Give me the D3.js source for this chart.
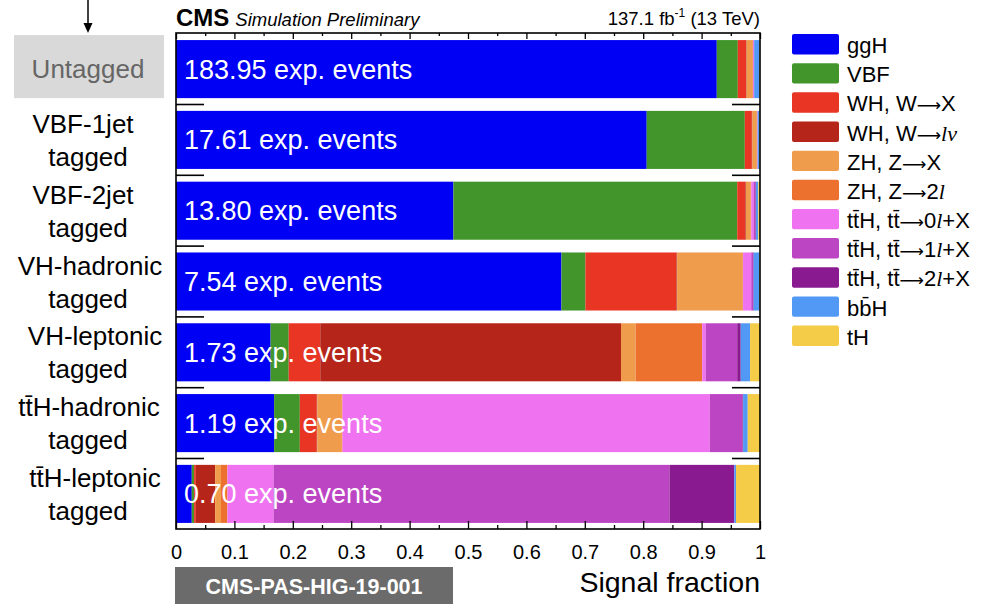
<!DOCTYPE html>
<html>
<head>
<meta charset="utf-8">
<script src="https://cdn.jsdelivr.net/npm/d3@7/dist/d3.min.js"></script>
<style>
  html, body { margin: 0; padding: 0; background: #fff; }
  svg { display: block; font-family: "Liberation Sans", Arial, Helvetica, sans-serif; }
</style>
</head>
<body>
<svg id="chart" width="983" height="604"></svg>
<script>
// Event categories (top to bottom) and their expected signal yields
const categories = ["Untagged", "VBF-1jet tagged", "VBF-2jet tagged", "VH-hadronic tagged",
                    "VH-leptonic tagged", "ttH-hadronic tagged", "ttH-leptonic tagged"];
const categoryLines = [["Untagged"], ["VBF-1jet", "tagged"], ["VBF-2jet", "tagged"],
                       ["VH-hadronic", "tagged"], ["VH-leptonic", "tagged"],
                       ["tt\u0304H-hadronic", "tagged"], ["tt\u0304H-leptonic", "tagged"]];
const expEvents = ["183.95", "17.61", "13.80", "7.54", "1.73", "1.19", "0.70"];

// Production-mode keys (stack order, left to right)
const processes = ["ggH", "VBF", "WHX", "WHlv", "ZHX", "ZH2l", "ttH0l", "ttH1l", "ttH2l", "bbH", "tH"];

// Signal fraction of each production mode, per category
const ggH   = [0.926, 0.806, 0.475, 0.660, 0.162, 0.168, 0.027];
const VBF   = [0.036, 0.168, 0.486, 0.041, 0.031, 0.044, 0.004];
const WHX   = [0.014, 0.012, 0.014, 0.156, 0.054, 0.029, 0.003];
const WHlv  = [0.001, 0.001, 0.001, 0.001, 0.515, 0.001, 0.033];
const ZHX   = [0.010, 0.007, 0.008, 0.112, 0.025, 0.042, 0.010];
const ZH2l  = [0.001, 0.001, 0.001, 0.001, 0.114, 0.001, 0.011];
const ttH0l = [0.001, 0.001, 0.004, 0.014, 0.006, 0.629, 0.079];
const ttH1l = [0.001, 0.000, 0.003, 0.003, 0.054, 0.056, 0.678];
const ttH2l = [0.000, 0.000, 0.001, 0.001, 0.006, 0.001, 0.111];
const bbH   = [0.009, 0.003, 0.004, 0.010, 0.016, 0.008, 0.003];
const tH    = [0.001, 0.001, 0.003, 0.001, 0.017, 0.021, 0.041];

const colors = ["#0000f5", "#41952b", "#e83524", "#b5251a", "#ef9c4d", "#ec712f",
                "#ef73f0", "#bc45c3", "#8a1a90", "#5299f5", "#f5cc47"];

// Axis tick values and labels
const xMajor = [0, 0.1, 0.2, 0.3, 0.4, 0.5, 0.6, 0.7, 0.8, 0.9, 1];
const xMajorLabels = ["0", "0.1", "0.2", "0.3", "0.4", "0.5", "0.6", "0.7", "0.8", "0.9", "1"];
const xMinor = [0.05, 0.15, 0.25, 0.35, 0.45, 0.55, 0.65, 0.75, 0.85, 0.95];

const seriesValues = { ggH, VBF, WHX, WHlv, ZHX, ZH2l, ttH0l, ttH1l, ttH2l, bbH, tH };
const table = categories.map((c, i) => {
  const row = { category: c };
  processes.forEach(p => row[p] = seriesValues[p][i]);
  return row;
});

const svg = d3.select("#chart");
const plotL = 176, plotR = 760, plotT = 33, plotB = 529;

const x = d3.scaleLinear().domain([0, 1]).range([plotL, plotR]);
const y = d3.scaleBand().domain(categories).range([plotT, plotB + 1])
  .paddingInner(0.18).paddingOuter(0.1);
const color = d3.scaleOrdinal().domain(processes).range(colors);

const stack = d3.stack().keys(processes)(table);

// Stacked bars
svg.append("g").selectAll("g").data(stack).join("g")
  .attr("fill", d => color(d.key))
  .selectAll("rect").data(d => d).join("rect")
  .attr("x", d => x(d[0]))
  .attr("width", d => Math.max(0, x(d[1]) - x(d[0])))
  .attr("y", d => y(d.data.category))
  .attr("height", y.bandwidth());

// Yield labels inside the bars
svg.append("g").selectAll("text").data(categories).join("text")
  .attr("x", plotL + 8)
  .attr("y", c => y(c) + y.bandwidth() / 2)
  .attr("dy", "0.35em")
  .attr("fill", "#fff")
  .attr("font-size", 27)
  .text((c, i) => expEvents[i] + " exp. events");

// Frame
svg.append("rect")
  .attr("x", plotL).attr("y", plotT)
  .attr("width", plotR - plotL).attr("height", plotB - plotT)
  .attr("fill", "none").attr("stroke", "#000").attr("stroke-width", 1.6);

// Row-boundary ticks on both sides of the frame
const boundaries = categories.slice(1).map(c => y(c) - y.step() * y.paddingInner() / 2);
const rowTicks = svg.append("g").attr("stroke", "#000").attr("stroke-width", 1.6);
rowTicks.selectAll("line.l").data(boundaries).join("line").attr("class", "l")
  .attr("x1", plotL).attr("x2", plotL + 28).attr("y1", d => d).attr("y2", d => d);
rowTicks.selectAll("line.r").data(boundaries).join("line").attr("class", "r")
  .attr("x1", plotR - 28).attr("x2", plotR).attr("y1", d => d).attr("y2", d => d);

// Bottom axis: major ticks with labels, minor ticks without
const axisB = svg.append("g").attr("transform", `translate(0,${plotB})`)
  .call(d3.axisBottom(x).tickValues(xMajor).tickSizeInner(-8).tickSizeOuter(0).tickPadding(16)
    .tickFormat((d, i) => xMajorLabels[i]));
axisB.select(".domain").remove();
axisB.selectAll("line").attr("stroke", "#000").attr("stroke-width", 1.3);
axisB.selectAll("text").attr("font-size", 20).attr("fill", "#000")
  .attr("font-family", "Liberation Sans, Arial, sans-serif");

const axisBm = svg.append("g").attr("transform", `translate(0,${plotB})`)
  .call(d3.axisBottom(x).tickValues(xMinor).tickSizeInner(-4).tickSizeOuter(0).tickFormat(""));
axisBm.select(".domain").remove();
axisBm.selectAll("line").attr("stroke", "#000").attr("stroke-width", 1.3);

// Top axis ticks pointing inward
const axisT = svg.append("g").attr("transform", `translate(0,${plotT})`)
  .call(d3.axisTop(x).tickValues(xMajor).tickSizeInner(-6).tickSizeOuter(0).tickFormat(""));
axisT.select(".domain").remove();
axisT.selectAll("line").attr("stroke", "#000").attr("stroke-width", 1.3);
const axisTm = svg.append("g").attr("transform", `translate(0,${plotT})`)
  .call(d3.axisTop(x).tickValues(xMinor).tickSizeInner(-3).tickSizeOuter(0).tickFormat(""));
axisTm.select(".domain").remove();
axisTm.selectAll("line").attr("stroke", "#000").attr("stroke-width", 1.3);

// Axis title
svg.append("text").attr("x", plotR).attr("y", 592).attr("text-anchor", "end")
  .attr("font-size", 28.5).attr("fill", "#000").text("Signal fraction");

// Header
const header = svg.append("text").attr("x", plotL).attr("y", 26).attr("fill", "#000");
header.append("tspan").attr("font-weight", "bold").attr("font-size", 24).text("CMS");
header.append("tspan").attr("font-style", "italic").attr("font-size", 18.5).attr("dx", 6)
  .text("Simulation Preliminary");

const lumi = svg.append("text").attr("x", plotR).attr("y", 25).attr("text-anchor", "end")
  .attr("font-size", 18.5).attr("fill", "#000");
lumi.append("tspan").text("137.1 fb");
lumi.append("tspan").attr("font-size", 12).attr("dy", -8).text("-1");
lumi.append("tspan").attr("dy", 8).text(" (13 TeV)");

// Category labels on the left; first lines sit slightly off-centre like the original layout
const labelX = 88;
const firstLineShift = [0, -5, -5, 2, 7, 1, 7];
svg.append("rect").attr("x", 14).attr("y", y(categories[0]) - 5)
  .attr("width", 150).attr("height", y.bandwidth() + 5).attr("fill", "#d9d9d9");

const catLabels = svg.append("g").attr("text-anchor", "middle").attr("font-size", 26);
categories.forEach((c, i) => {
  const cy = y(c) + y.bandwidth() / 2;
  const lines = categoryLines[i];
  lines.forEach((t, j) => {
    const off = lines.length === 1 ? 0 : (j === 0 ? -16 : 17);
    catLabels.append("text")
      .attr("x", labelX + (j === 0 ? firstLineShift[i] : 0)).attr("y", cy + off).attr("dy", "0.35em")
      .attr("fill", i === 0 ? "#666" : "#000")
      .text(t);
  });
});

// Marker arrow above the first category
svg.append("line").attr("x1", labelX).attr("x2", labelX).attr("y1", 0).attr("y2", 26)
  .attr("stroke", "#000").attr("stroke-width", 1.5);
svg.append("path")
  .attr("d", `M${labelX - 4.5},23 L${labelX + 4.5},23 L${labelX},33 Z`)
  .attr("fill", "#000");

// Document label
svg.append("rect").attr("x", 175).attr("y", 567).attr("width", 278).attr("height", 37)
  .attr("fill", "#6b6b6b");
svg.append("text").attr("x", 314).attr("y", 586).attr("dy", "0.36em")
  .attr("text-anchor", "middle").attr("font-weight", "bold").attr("font-size", 21.5)
  .attr("fill", "#fff").text("CMS-PAS-HIG-19-001");

// Legend (a = arrow glyph, i = italic serif symbol)
const legendItems = [
  [["ggH"]],
  [["VBF"]],
  [["WH, W"], ["\u27f6", "a"], ["X"]],
  [["WH, W"], ["\u27f6", "a"], ["l\u03bd", "i"]],
  [["ZH, Z"], ["\u27f6", "a"], ["X"]],
  [["ZH, Z"], ["\u27f6", "a"], ["2"], ["l", "i"]],
  [["tt\u0304H, tt\u0304"], ["\u27f6", "a"], ["0"], ["l", "i"], ["+X"]],
  [["tt\u0304H, tt\u0304"], ["\u27f6", "a"], ["1"], ["l", "i"], ["+X"]],
  [["tt\u0304H, tt\u0304"], ["\u27f6", "a"], ["2"], ["l", "i"], ["+X"]],
  [["bb\u0304H"]],
  [["tH"]]
];
const legY = d3.scaleBand().domain(processes).range([34, 346]).paddingInner(0.3);
const leg = svg.append("g");
processes.forEach((p, i) => {
  leg.append("rect").attr("x", 792).attr("y", legY(p))
    .attr("width", 47).attr("height", legY.bandwidth())
    .attr("rx", 2).attr("fill", color(p));
  const t = leg.append("text").attr("x", 847).attr("y", legY(p) + legY.bandwidth() / 2 + 1)
    .attr("dy", "0.36em").attr("font-size", 22).attr("fill", "#000");
  legendItems[i].forEach(([s, style]) => {
    const ts = t.append("tspan").text(s);
    if (style === "i") ts.attr("font-style", "italic").attr("font-family", "Liberation Serif, serif");
    if (style === "a") ts.attr("font-family", "DejaVu Sans, sans-serif").attr("font-size", 17);
  });
});
</script>
</body>
</html>
